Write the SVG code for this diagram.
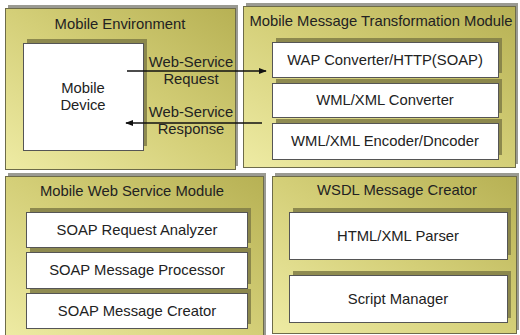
<svg xmlns="http://www.w3.org/2000/svg" width="520" height="335" viewBox="0 0 520 335">
<defs>
<linearGradient id="pg" x1="0" y1="1" x2="1" y2="0">
<stop offset="0" stop-color="#eeeba4"/>
<stop offset="0.5" stop-color="#d4cf78"/>
<stop offset="1" stop-color="#b7b154"/>
</linearGradient>
<marker id="ah" viewBox="0 0 10 10" refX="9" refY="5" markerWidth="8" markerHeight="8" markerUnits="userSpaceOnUse" orient="auto">
<path d="M0,1 L10,5 L0,9 z" fill="#111"/>
</marker>
</defs>
<style>
.panel{fill:url(#pg);stroke:#6d6b4a;stroke-width:1}
.pshadow{fill:#9a9a92}
.box{fill:#ffffff;stroke:#555;stroke-width:1}
.bshadow{fill:#807c46;opacity:0.85}
text{font-family:"Liberation Sans",Arial,sans-serif;font-size:14.8px;fill:#222;text-anchor:middle}
.conn{stroke:#111;stroke-width:1.4;fill:none;marker-end:url(#ah)}
</style>
<rect width="520" height="335" fill="#ffffff"/>

<g id="mobile-environment">
<rect class="pshadow" x="8" y="5" width="230" height="161"/>
<rect class="panel" x="5.5" y="8.5" width="230" height="161"/>
<text x="120" y="29">Mobile Environment</text>
<g id="mobile-device">
<rect class="bshadow" x="27" y="39" width="120" height="107"/>
<rect class="box" x="23.5" y="43.5" width="120" height="107"/>
<text x="83" y="93">Mobile</text>
<text x="83" y="110">Device</text>
</g>
</g>

<g id="mobile-message-transformation-module">
<rect class="pshadow" x="246" y="3" width="272" height="161"/>
<rect class="panel" x="243.5" y="6.5" width="272" height="161"/>
<text x="381" y="26">Mobile Message Transformation Module</text>
<g id="wap-converter">
<rect class="bshadow" x="276" y="38" width="226" height="35"/>
<rect class="box" x="272.5" y="42.5" width="226" height="35"/>
<text x="385" y="65">WAP Converter/HTTP(SOAP)</text>
</g>
<g id="wml-xml-converter">
<rect class="bshadow" x="276" y="79" width="226" height="34"/>
<rect class="box" x="272.5" y="83.5" width="226" height="34"/>
<text x="385" y="105">WML/XML Converter</text>
</g>
<g id="wml-xml-encoder">
<rect class="bshadow" x="276" y="119" width="226" height="36"/>
<rect class="box" x="272.5" y="123.5" width="226" height="36"/>
<text x="385" y="146">WML/XML Encoder/Dncoder</text>
</g>
</g>

<g id="mobile-web-service-module">
<rect class="pshadow" x="8" y="173" width="258" height="165"/>
<rect class="panel" x="5.5" y="176.5" width="258" height="162"/>
<text x="132" y="196">Mobile Web Service Module</text>
<g id="soap-request-analyzer">
<rect class="bshadow" x="30" y="208" width="221" height="35"/>
<rect class="box" x="26.5" y="212.5" width="221" height="35"/>
<text x="137" y="235">SOAP Request Analyzer</text>
</g>
<g id="soap-message-processor">
<rect class="bshadow" x="30" y="248" width="221" height="36"/>
<rect class="box" x="26.5" y="252.5" width="221" height="36"/>
<text x="137" y="275">SOAP Message Processor</text>
</g>
<g id="soap-message-creator">
<rect class="bshadow" x="30" y="289" width="221" height="35"/>
<rect class="box" x="26.5" y="293.5" width="221" height="35"/>
<text x="137" y="316">SOAP Message Creator</text>
</g>
</g>

<g id="wsdl-message-creator">
<rect class="pshadow" x="275" y="173" width="244" height="157"/>
<rect class="panel" x="272.5" y="176.5" width="244" height="157"/>
<text x="397" y="195">WSDL Message Creator</text>
<g id="html-xml-parser">
<rect class="bshadow" x="293" y="208" width="218" height="47"/>
<rect class="box" x="289.5" y="212.5" width="218" height="47"/>
<text x="398" y="241">HTML/XML Parser</text>
</g>
<g id="script-manager">
<rect class="bshadow" x="293" y="271" width="218" height="47"/>
<rect class="box" x="289.5" y="275.5" width="218" height="47"/>
<text x="398" y="304">Script Manager</text>
</g>
</g>

<g id="connectors">
<line class="conn" x1="127" y1="71" x2="266" y2="71"/>
<line class="conn" x1="262" y1="123" x2="126" y2="123"/>
<text x="191" y="67">Web-Service</text>
<text x="191" y="84">Request</text>
<text x="191" y="117">Web-Service</text>
<text x="191" y="134">Response</text>
</g>
</svg>
